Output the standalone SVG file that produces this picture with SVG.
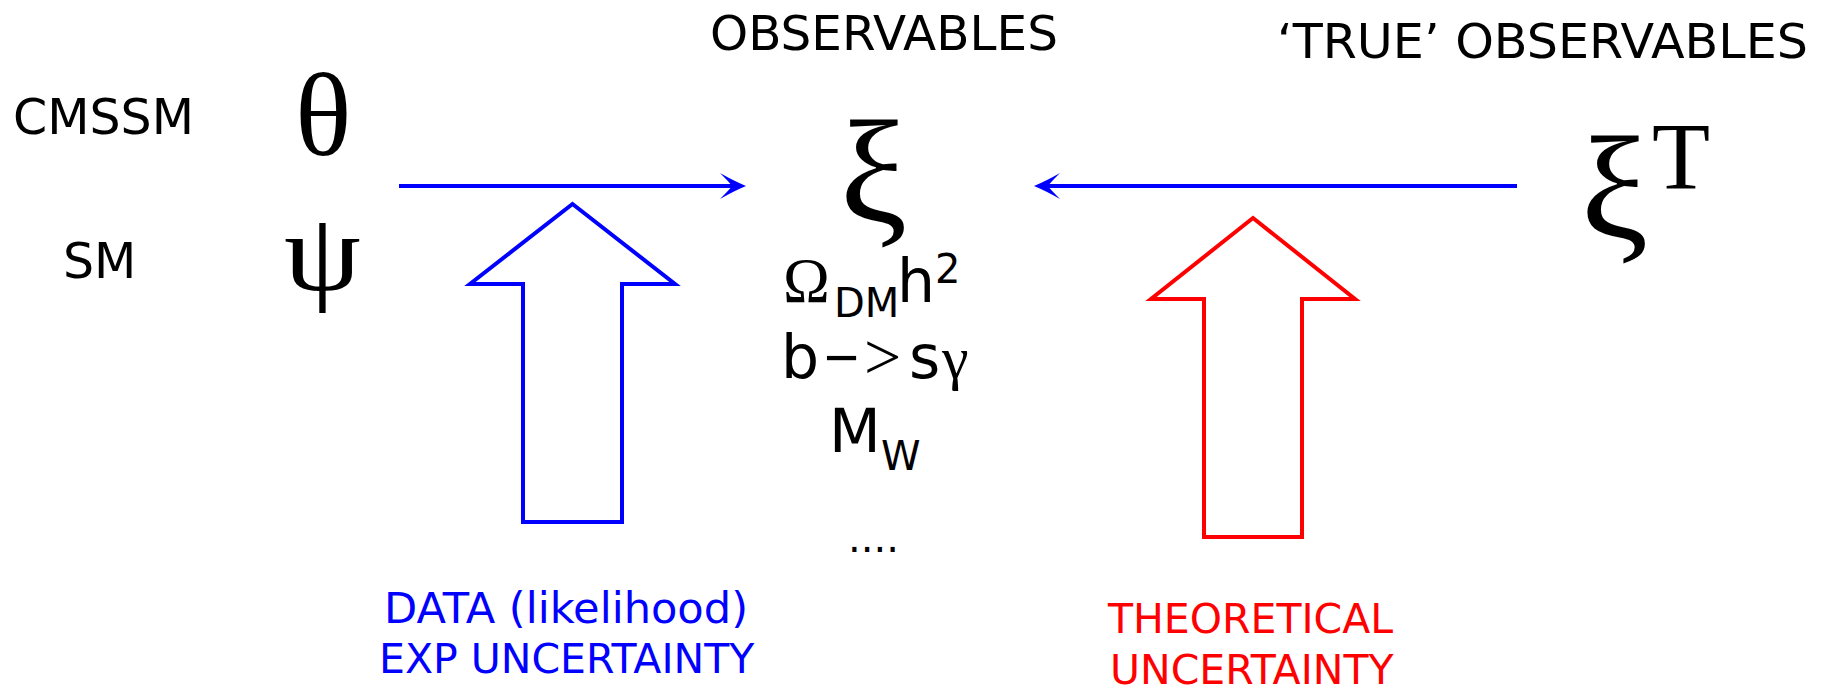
<svg xmlns="http://www.w3.org/2000/svg" width="1829" height="688" viewBox="0 0 1829 688">
<style>
.sans{font-family:"DejaVu Sans",sans-serif;fill:#000}
.serif{font-family:"Liberation Serif","Times New Roman",serif;fill:#000}
.blue{fill:#0000ff}
.red{fill:#ff0000}
.hdr{font-size:48px}
.lbl{font-size:49px}
.cap{font-size:41px}
.obs{font-size:60px}
.sub{font-size:40px}
.conn{stroke:#0000ff;stroke-width:4;fill:none}
.bigarrow{fill:none;stroke-width:4;stroke-linejoin:miter;stroke-miterlimit:10}
</style>
<defs>
<marker id="ah" markerUnits="userSpaceOnUse" markerWidth="30" markerHeight="30" viewBox="-28 -15 30 30" refX="-14" refY="0" orient="auto">
<path d="M0,0 Q-12,-5 -26,-13 Q-16,-3 -14,0 Q-16,3 -26,13 Q-12,5 0,0 Z" fill="#0000ff"/>
</marker>
</defs>
<rect width="1829" height="688" fill="#ffffff"/>

<g id="cmssm"><text class="sans lbl" x="13" y="134">CMSSM</text></g>
<g id="sm"><text class="sans lbl" x="63" y="278">SM</text></g>
<g id="theta"><text class="serif" font-size="118" x="295" y="155">θ</text></g>
<g id="psi"><text class="serif" font-size="118" transform="translate(284,290) scale(1.04,0.93)" x="0" y="0">ψ</text></g>

<g id="observables-header"><text class="sans hdr" x="710" y="50" textLength="348" lengthAdjust="spacingAndGlyphs">OBSERVABLES</text></g>
<g id="true-observables-header"><text class="sans hdr" x="1277" y="58" textLength="531" lengthAdjust="spacingAndGlyphs">‘TRUE’ OBSERVABLES</text></g>

<g id="xi"><text class="serif" font-size="143" transform="translate(839.7,222) scale(1.06,1.02)" x="0" y="0">ξ</text></g>
<g id="xiT"><text class="serif" font-size="143" transform="translate(1580.7,238) scale(1.06,1.02)" x="0" y="0">ξ</text><text class="serif" font-size="95" x="1652" y="189">T</text></g>

<g id="observable-list">
<text class="serif" font-size="63" x="783" y="302">Ω</text>
<text class="sans sub" x="834" y="317">DM</text>
<text class="sans obs" x="897" y="302">h</text>
<text class="sans sub" x="935" y="283">2</text>
<text class="sans obs" x="781" y="378">b</text>
<text font-family="Liberation Sans,Arial,sans-serif" font-size="60" x="824" y="378">−</text>
<text class="serif" font-size="66" x="864" y="379">&gt;</text>
<text class="sans obs" x="909" y="378">s</text>
<text class="serif" font-size="60" x="942" y="378">γ</text>
<text class="sans obs" x="829" y="452">M</text>
<text class="sans sub" x="881" y="470">W</text>
<text class="sans" font-size="40" x="848" y="552">....</text>
</g>

<g id="connectors">
<line class="conn" x1="399" y1="186" x2="732" y2="186" marker-end="url(#ah)"/>
<line class="conn" x1="1517" y1="186" x2="1048" y2="186" marker-end="url(#ah)"/>
</g>

<g id="data-arrow">
<polygon class="bigarrow" stroke="#0000ff" points="572.5,204 675,284 622,284 622,522 523,522 523,284 470,284"/>
</g>
<g id="theory-arrow">
<polygon class="bigarrow" stroke="#ff0000" points="1253,218 1355,299 1302,299 1302,537 1204,537 1204,299 1151,299"/>
</g>

<g id="data-label">
<text class="sans blue" font-size="42" x="384" y="623" textLength="364" lengthAdjust="spacingAndGlyphs">DATA (likelihood)</text>
<text class="sans cap blue" x="379" y="673">EXP UNCERTAINTY</text>
</g>
<g id="theory-label">
<text class="sans cap red" x="1108" y="633">THEORETICAL</text>
<text class="sans cap red" x="1110" y="684">UNCERTAINTY</text>
</g>
</svg>
